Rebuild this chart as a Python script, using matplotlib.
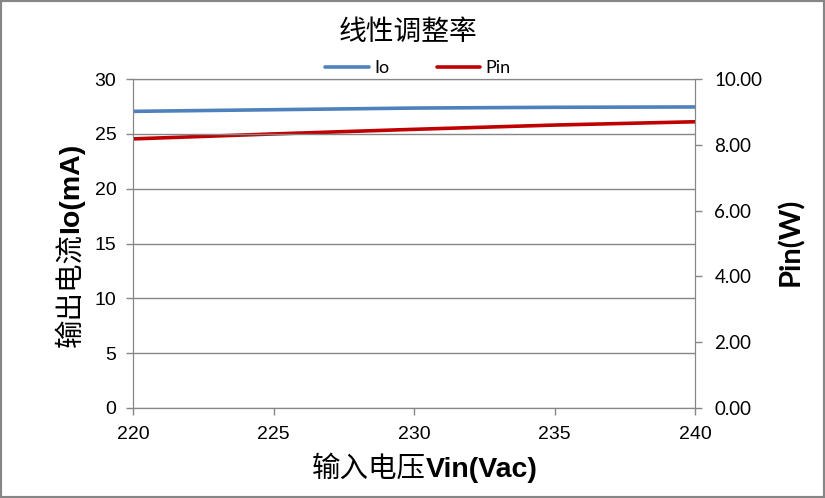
import matplotlib.pyplot as plt
from matplotlib.patches import Rectangle

plt.rcParams['font.family'] = ['Liberation Sans', 'Noto Sans CJK SC']

# data
vin = [220, 225, 230, 235, 240]
io_ma = [27.05, 27.2, 27.35, 27.42, 27.45]
pin_w = [8.18, 8.33, 8.47, 8.6, 8.70]
right_ticks = [0, 2, 4, 6, 8, 10]

grey = '#868686'
W, H = 825, 498

fig = plt.figure(figsize=(W / 100, H / 100), dpi=100)
ax = fig.add_axes([133 / W, 1 - 408 / H, (695 - 133) / W, (408 - 79) / H])
ax2 = ax.twinx()

l1, = ax.plot(vin, io_ma, color='#4F81BD', lw=2.6, label='Io', solid_capstyle='round')
l2, = ax2.plot(vin, pin_w, color='#C00000', lw=2.6, label='Pin', solid_capstyle='round')
ax.set_zorder(ax2.get_zorder() + 1)
ax.patch.set_visible(False)

ax.set_xlim(220, 240)
ax.set_ylim(0, 30)
ax2.set_ylim(0, 10)
ax.set_xticks(vin)
ax.set_yticks(range(0, 31, 5))
ax2.set_yticks(right_ticks)
ax2.set_yticklabels([f'{v:.2f}' for v in right_ticks], family='Lato', fontsize=13.5)
ax.grid(axis='y', color=grey, lw=1)

for a in (ax, ax2):
    for s in a.spines.values():
        s.set_color(grey)
    a.tick_params(colors=grey, length=5, width=1, labelcolor='black')
ax.tick_params(axis='y', labelsize=14, pad=7)
ax.tick_params(axis='x', labelsize=14, pad=8)
ax2.tick_params(axis='y', pad=9)

# title and legend
fig.text(408 / W, 1 - 32 / H, '线性调整率', fontsize=20, family='Noto Sans CJK SC',
         ha='center', va='center')
fig.legend(handles=[l1, l2], loc='center', bbox_to_anchor=(418 / W, 1 - 68 / H), ncol=2,
           frameon=False, prop={'family': 'Lato', 'size': 13}, handlelength=2.4,
           columnspacing=2.65, handletextpad=0.3)

# axis titles: Chinese part normal, latin part bold
fig.canvas.draw()
rend = fig.canvas.get_renderer()


def two_part(cn, en, cx, cy, rotation=0, size=20.5):
    t1 = fig.text(0, 0, cn, fontsize=size, family='Noto Sans CJK SC', rotation=rotation,
                  rotation_mode='anchor', ha='left', va='baseline')
    t2 = fig.text(0, 0, en, fontsize=size, family='Liberation Sans', fontweight='bold',
                  rotation=rotation, rotation_mode='anchor', ha='left', va='baseline')
    b1 = t1.get_window_extent(rend)
    b2 = t2.get_window_extent(rend)
    if rotation == 0:
        w1, w2 = b1.width, b2.width
        x0 = cx - (w1 + w2) / 2
        t1.set_position((x0 / W, 1 - cy / H))
        t2.set_position(((x0 + w1) / W, 1 - cy / H))
    else:
        w1, w2 = b1.height, b2.height
        y0 = cy + (w1 + w2) / 2
        t1.set_position((cx / W, 1 - y0 / H))
        t2.set_position((cx / W, 1 - (y0 - w1) / H))


two_part('输入电压', 'Vin(Vac)', 425, 477)
two_part('输出电流', 'Io(mA)', 78, 245, rotation=90)

fig.text(791 / W, 1 - 242 / H, 'Pin(W)', fontsize=21, family='Lato', fontweight='bold',
         rotation=90, ha='center', va='center')

fig.patches.append(Rectangle((0, 0), 1, 1, transform=fig.transFigure, fill=False,
                             edgecolor=grey, lw=3))
fig.savefig('out.png', dpi=100)
